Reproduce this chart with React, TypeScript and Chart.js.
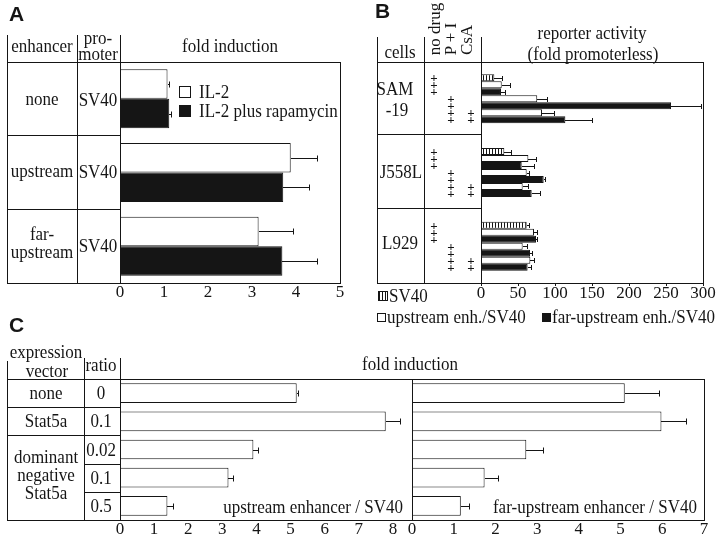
import React, { useEffect, useRef } from 'react';
import { Chart, registerables } from 'chart.js';

Chart.register(...registerables);

const SERIF = '"Liberation Serif", "Times New Roman", serif';
const SANS = '"Liberation Sans", Arial, sans-serif';
const INK = '#151515';

// ---------- Panel A : fold induction ----------
const aEnhancers = ['none', 'upstream', 'far-upstream'];
const aIL2 = [1.08, 3.88, 3.15];
const aIL2Err = [0.04, 0.59, 0.79];
const aIL2Rapa = [1.12, 3.71, 3.69];
const aIL2RapaErr = [0.03, 0.58, 0.78];
const aTicks = [0, 1, 2, 3, 4, 5];

// ---------- Panel B : reporter activity (fold promoterless) ----------
const bCells = ['SAM-19', 'J558L', 'L929'];
const bSV40 = [18, 31.5, 61.7];
const bSV40Err = [10, 9, 3.3];
const bUpNoDrug = [28, 64, 71.6];
const bUpNoDrugErr = [11.6, 10, 4];
const bFarNoDrug = [27, 55, 74.3];
const bFarNoDrugErr = [5, 16.6, 1];
const bUpPI = [76, 61.7, 56.3];
const bUpPIErr = [13.6, 3.3, 6.3];
const bFarPI = [256.8, 84.7, 66.2];
const bFarPIErr = [41, 2.3, 3.2];
const bUpCsA = [82.4, 56.3, 66.7];
const bUpCsAErr = [16.2, 7.7, 4.5];
const bFarCsA = [114, 68.5, 63];
const bFarCsAErr = [36, 11.2, 4.2];
const bTicks = [0, 50, 100, 150, 200, 250, 300];

// ---------- Panel C : fold induction ----------
const cVectors = ['none', 'Stat5a', 'dominant negative Stat5a', 'dominant negative Stat5a', 'dominant negative Stat5a'];
const cRatios = ['0', '0.1', '0.02', '0.1', '0.5'];
const cUpstream = [5.18, 7.79, 3.91, 3.18, 1.39];
const cUpstreamErr = [0.03, 0.42, 0.13, 0.14, 0.17];
const cFarUpstream = [5.1, 5.98, 2.74, 1.74, 1.17];
const cFarUpstreamErr = [0.82, 0.58, 0.39, 0.31, 0.2];
const cTicksLeft = [0, 1, 2, 3, 4, 5, 6, 7, 8];
const cTicksRight = [0, 1, 2, 3, 4, 5, 6, 7];

const tickFont = { family: SERIF, size: 17 };

const framePlugin = {
  id: 'frame',
  afterDraw(chart: any) {
    const { ctx, chartArea: a } = chart;
    ctx.save();
    ctx.strokeStyle = INK;
    ctx.lineWidth = 1;
    const l = Math.round(a.left), t = Math.round(a.top), r = Math.round(a.right), b = Math.round(a.bottom);
    ctx.strokeRect(l + 0.5, t + 0.5, r - l, b - t);
    ctx.restore();
  },
};

const errorBarPlugin = {
  id: 'errorBars',
  afterDatasetsDraw(chart: any, _args: any, opts: any) {
    const { ctx } = chart;
    const xs = chart.scales.x;
    const cap = (opts && opts.cap) || 3;
    ctx.save();
    ctx.strokeStyle = INK;
    ctx.lineWidth = 1;
    chart.data.datasets.forEach((ds: any, i: number) => {
      if (!ds.errors) return;
      chart.getDatasetMeta(i).data.forEach((el: any, j: number) => {
        const v = ds.data[j];
        const e = ds.errors[j];
        const x0 = Math.round(xs.getPixelForValue(v));
        const x1 = Math.round(xs.getPixelForValue(v + e)) + 0.5;
        const y = Math.round(el.y) + 0.5;
        ctx.beginPath();
        ctx.moveTo(x0, y);
        ctx.lineTo(x1, y);
        ctx.moveTo(x1, y - cap);
        ctx.lineTo(x1, y + cap);
        ctx.stroke();
      });
    });
    ctx.restore();
  },
};

const plusPlugin = {
  id: 'plusSigns',
  afterDatasetsDraw(chart: any, _args: any, opts: any) {
    const { ctx } = chart;
    ctx.save();
    ctx.fillStyle = INK;
    ctx.font = `bold 13px ${SERIF}`;
    ctx.textAlign = 'center';
    ctx.textBaseline = 'middle';
    chart.data.datasets.forEach((ds: any, i: number) => {
      const marks: boolean[] = ds.treatment || [];
      chart.getDatasetMeta(i).data.forEach((el: any) => {
        marks.forEach((m, k) => {
          if (m) ctx.fillText('+', opts.columns[k], el.y + 1);
        });
      });
    });
    ctx.restore();
  },
};

function fixedTicks(values: number[]) {
  return (scale: any) => {
    scale.ticks = values.map((v) => ({ value: v }));
  };
}

function baseOptions(padding: any, xMin: number, xMax: number, ticks: number[], extraX: any = {}) {
  return {
    indexAxis: 'y' as const,
    responsive: false,
    animation: false as const,
    layout: { padding },
    scales: {
      x: {
        type: 'linear' as const,
        min: xMin,
        max: xMax,
        afterBuildTicks: fixedTicks(ticks),
        ticks: { font: tickFont, color: INK, padding: -1, maxRotation: 0, autoSkip: false },
        grid: { display: false, drawTicks: false },
        border: { display: false },
        ...extraX,
      },
      y: { display: false },
    },
    plugins: {
      legend: { display: false },
      tooltip: { enabled: false },
      errorBars: { cap: 3 },
    } as any,
  };
}

function buildA() {
  const opts = baseOptions({ left: 120, right: 20, top: 62, bottom: 8.6 }, 0, 5, aTicks);
  return {
    type: 'bar' as const,
    data: {
      labels: aEnhancers,
      datasets: [
        { label: 'IL-2', data: aIL2, errors: aIL2Err, backgroundColor: '#fff', borderColor: INK, borderWidth: 1, categoryPercentage: 0.8, barPercentage: 1 },
        { label: 'IL-2 plus rapamycin', data: aIL2Rapa, errors: aIL2RapaErr, backgroundColor: INK, borderColor: INK, borderWidth: 1, categoryPercentage: 0.8, barPercentage: 1 },
      ] as any[],
    },
    options: opts,
    plugins: [errorBarPlugin, framePlugin],
  };
}

function hatchPattern(): any {
  const pc = document.createElement('canvas');
  pc.width = 3;
  pc.height = 8;
  const c = pc.getContext('2d')!;
  c.fillStyle = '#fff';
  c.fillRect(0, 0, 3, 8);
  c.fillStyle = INK;
  c.fillRect(0, 0, 1, 8);
  return c.createPattern(pc, 'repeat');
}

function buildB() {
  const hatch = hatchPattern();
  const white = '#fff';
  const mk = (label: string, data: number[], errors: number[], bg: any, treatment: boolean[]) => ({
    label, data, errors, backgroundColor: bg, borderColor: INK, borderWidth: 1,
    categoryPercentage: 0.665, barPercentage: 1, treatment,
  });
  const opts: any = baseOptions({ left: 121, right: 17, top: 62, bottom: 9.6 }, 0, 300, bTicks, {
    grid: { display: true, drawOnChartArea: false, drawTicks: true, tickLength: 3, color: INK },
  });
  opts.scales.x.ticks.padding = -3;
  opts.plugins.errorBars = { cap: 2.5 };
  opts.plugins.plusSigns = { columns: [74, 91, 111] };
  return {
    type: 'bar' as const,
    data: {
      labels: bCells,
      datasets: [
        mk('SV40', bSV40, bSV40Err, hatch, [true, false, false]),
        mk('upstream enh./SV40', bUpNoDrug, bUpNoDrugErr, white, [true, false, false]),
        mk('far-upstream enh./SV40', bFarNoDrug, bFarNoDrugErr, INK, [true, false, false]),
        mk('upstream enh./SV40 P + I', bUpPI, bUpPIErr, white, [false, true, false]),
        mk('far-upstream enh./SV40 P + I', bFarPI, bFarPIErr, INK, [false, true, false]),
        mk('upstream enh./SV40 P + I + CsA', bUpCsA, bUpCsAErr, white, [false, true, true]),
        mk('far-upstream enh./SV40 P + I + CsA', bFarCsA, bFarCsAErr, INK, [false, true, true]),
      ] as any[],
    },
    options: opts,
    plugins: [errorBarPlugin, plusPlugin, framePlugin],
  };
}

const cLabels = cVectors.map((v, i) => `${v} ${cRatios[i]}`);

function buildCLeft() {
  const opts = baseOptions({ left: 120, right: 0, top: 39, bottom: 2.6 }, 0, 8.56, cTicksLeft);
  return {
    type: 'bar' as const,
    data: {
      labels: cLabels,
      datasets: [
        { label: 'upstream enhancer / SV40', data: cUpstream, errors: cUpstreamErr, backgroundColor: '#fff', borderColor: INK, borderWidth: 1, categoryPercentage: 0.7, barPercentage: 1 },
      ] as any[],
    },
    options: opts,
    plugins: [errorBarPlugin, framePlugin],
  };
}

function buildCRight() {
  const opts = baseOptions({ left: 52, right: 16, top: 39, bottom: 2.6 }, 0, 7, cTicksRight);
  return {
    type: 'bar' as const,
    data: {
      labels: cLabels,
      datasets: [
        { label: 'far-upstream enhancer / SV40', data: cFarUpstream, errors: cFarUpstreamErr, backgroundColor: '#fff', borderColor: INK, borderWidth: 1, categoryPercentage: 0.7, barPercentage: 1 },
      ] as any[],
    },
    options: opts,
    plugins: [errorBarPlugin, framePlugin],
  };
}

function ChartCanvas({ left, top, width, height, build }: any) {
  const ref = useRef<HTMLCanvasElement>(null);
  useEffect(() => {
    const chart = new Chart(ref.current as HTMLCanvasElement, build() as any);
    return () => chart.destroy();
  }, [build]);
  return (
    <canvas
      ref={ref}
      width={width}
      height={height}
      style={{ position: 'absolute', left, top, width, height, display: 'block' }}
    />
  );
}

function T({ x, y, children, align = 'center', size = 17 }: any) {
  const tx = align === 'center' ? '-50%' : align === 'right' ? '-100%' : '0%';
  return (
    <div
      style={{
        position: 'absolute', left: x, top: y,
        transform: `translate(${tx}, -50%) scaleY(1.15)`,
        fontFamily: SERIF, fontSize: size, lineHeight: 1, whiteSpace: 'nowrap', color: INK,
      }}
    >
      {children}
    </div>
  );
}

function R({ x, y, children }: any) {
  return (
    <div
      style={{
        position: 'absolute', left: x, top: y,
        transform: 'translate(-50%, -50%) rotate(-90deg)',
        fontFamily: SERIF, fontSize: 17, lineHeight: 1, whiteSpace: 'nowrap', color: INK,
      }}
    >
      {children}
    </div>
  );
}

function Letter({ x, y, children }: any) {
  return (
    <div style={{ position: 'absolute', left: x, top: y, fontFamily: SANS, fontWeight: 'bold', fontSize: 21, lineHeight: 1, color: INK }}>
      {children}
    </div>
  );
}

function H({ x1, x2, y }: any) {
  return <div style={{ position: 'absolute', left: x1, top: y, width: x2 - x1 + 1, height: 1, background: INK }} />;
}
function V({ x, y1, y2 }: any) {
  return <div style={{ position: 'absolute', left: x, top: y1, width: 1, height: y2 - y1 + 1, background: INK }} />;
}

function Box({ x, y, size, fill, hatch }: any) {
  return (
    <div
      style={{
        position: 'absolute', left: x, top: y, width: size, height: size, boxSizing: 'border-box',
        border: `1px solid ${INK}`,
        background: hatch ? `repeating-linear-gradient(90deg, ${INK} 0px, ${INK} 1px, #fff 1px, #fff 3px)` : fill,
      }}
    />
  );
}

export default function App() {
  return (
    <div style={{ position: 'absolute', left: 0, top: 0, width: 720, height: 541, background: '#fff', overflow: 'hidden' }}>
      {/* ---- Panel A table ---- */}
      <V x={7} y1={35} y2={283} />
      <V x={77} y1={35} y2={283} />
      <V x={120} y1={35} y2={62} />
      <H x1={7} x2={120} y={62} />
      <H x1={7} x2={120} y={135} />
      <H x1={7} x2={120} y={209} />
      <H x1={7} x2={120} y={283} />

      {/* ---- Panel B table ---- */}
      <V x={377} y1={37} y2={283} />
      <V x={424} y1={37} y2={283} />
      <V x={481} y1={37} y2={62} />
      <H x1={377} x2={481} y={62} />
      <H x1={377} x2={481} y={134} />
      <H x1={377} x2={481} y={208} />
      <H x1={377} x2={481} y={283} />

      {/* ---- Panel C table ---- */}
      <V x={7} y1={361} y2={520} />
      <V x={84} y1={358} y2={520} />
      <V x={120} y1={358} y2={379} />
      <H x1={7} x2={120} y={379} />
      <H x1={7} x2={120} y={407} />
      <H x1={7} x2={120} y={435} />
      <H x1={84} x2={120} y={464} />
      <H x1={84} x2={120} y={492} />
      <H x1={7} x2={120} y={520} />

      <ChartCanvas left={0} top={0} width={360} height={310} build={buildA} />
      <ChartCanvas left={360} top={0} width={360} height={310} build={buildB} />
      <ChartCanvas left={0} top={340} width={412} height={201} build={buildCLeft} />
      <ChartCanvas left={360} top={340} width={360} height={201} build={buildCRight} />

      {/* ---- Panel A text ---- */}
      <Letter x={9} y={3}>A</Letter>
      <T x={42} y={45.5}>enhancer</T>
      <T x={98} y={38}>pro-</T>
      <T x={98} y={54}>moter</T>
      <T x={230} y={46}>fold induction</T>
      <T x={42} y={99}>none</T>
      <T x={98} y={100}>SV40</T>
      <T x={42} y={171}>upstream</T>
      <T x={98} y={172}>SV40</T>
      <T x={42} y={234}>far-</T>
      <T x={42} y={252}>upstream</T>
      <T x={98} y={246}>SV40</T>
      <Box x={179} y={86} size={12} fill="#fff" />
      <T x={199} y={91.5} align="left">IL-2</T>
      <Box x={179} y={105} size={12} fill={INK} />
      <T x={199} y={110.5} align="left">IL-2 plus rapamycin</T>

      {/* ---- Panel B text ---- */}
      <Letter x={375} y={0}>B</Letter>
      <T x={400} y={52}>cells</T>
      <R x={434} y={29}>no drug</R>
      <R x={450} y={38.5}>P + I</R>
      <R x={466} y={40}>CsA</R>
      <T x={592} y={33}>reporter activity</T>
      <T x={593} y={54}>(fold promoterless)</T>
      <T x={395} y={88.5}>SAM</T>
      <T x={397} y={109.5}>-19</T>
      <T x={401} y={171.5}>J558L</T>
      <T x={400} y={243}>L929</T>
      <Box x={378} y={291} size={10} hatch />
      <T x={389} y={296} align="left">SV40</T>
      <Box x={377} y={313} size={9} fill="#fff" />
      <T x={387} y={317} align="left">upstream enh./SV40</T>
      <Box x={542} y={313} size={9} fill={INK} />
      <T x={552} y={317} align="left">far-upstream enh./SV40</T>

      {/* ---- Panel C text ---- */}
      <Letter x={9} y={314}>C</Letter>
      <T x={46} y={352}>expression</T>
      <T x={47} y={371}>vector</T>
      <T x={101} y={365}>ratio</T>
      <T x={410} y={364}>fold induction</T>
      <T x={46} y={393}>none</T>
      <T x={101} y={393}>0</T>
      <T x={46} y={421}>Stat5a</T>
      <T x={101} y={421}>0.1</T>
      <T x={46} y={457}>dominant</T>
      <T x={46} y={475}>negative</T>
      <T x={46} y={493}>Stat5a</T>
      <T x={101} y={450}>0.02</T>
      <T x={101} y={478}>0.1</T>
      <T x={101} y={506}>0.5</T>
      <T x={403} y={506.5} align="right">upstream enhancer / SV40</T>
      <T x={697} y={506.5} align="right">far-upstream enhancer / SV40</T>
    </div>
  );
}
